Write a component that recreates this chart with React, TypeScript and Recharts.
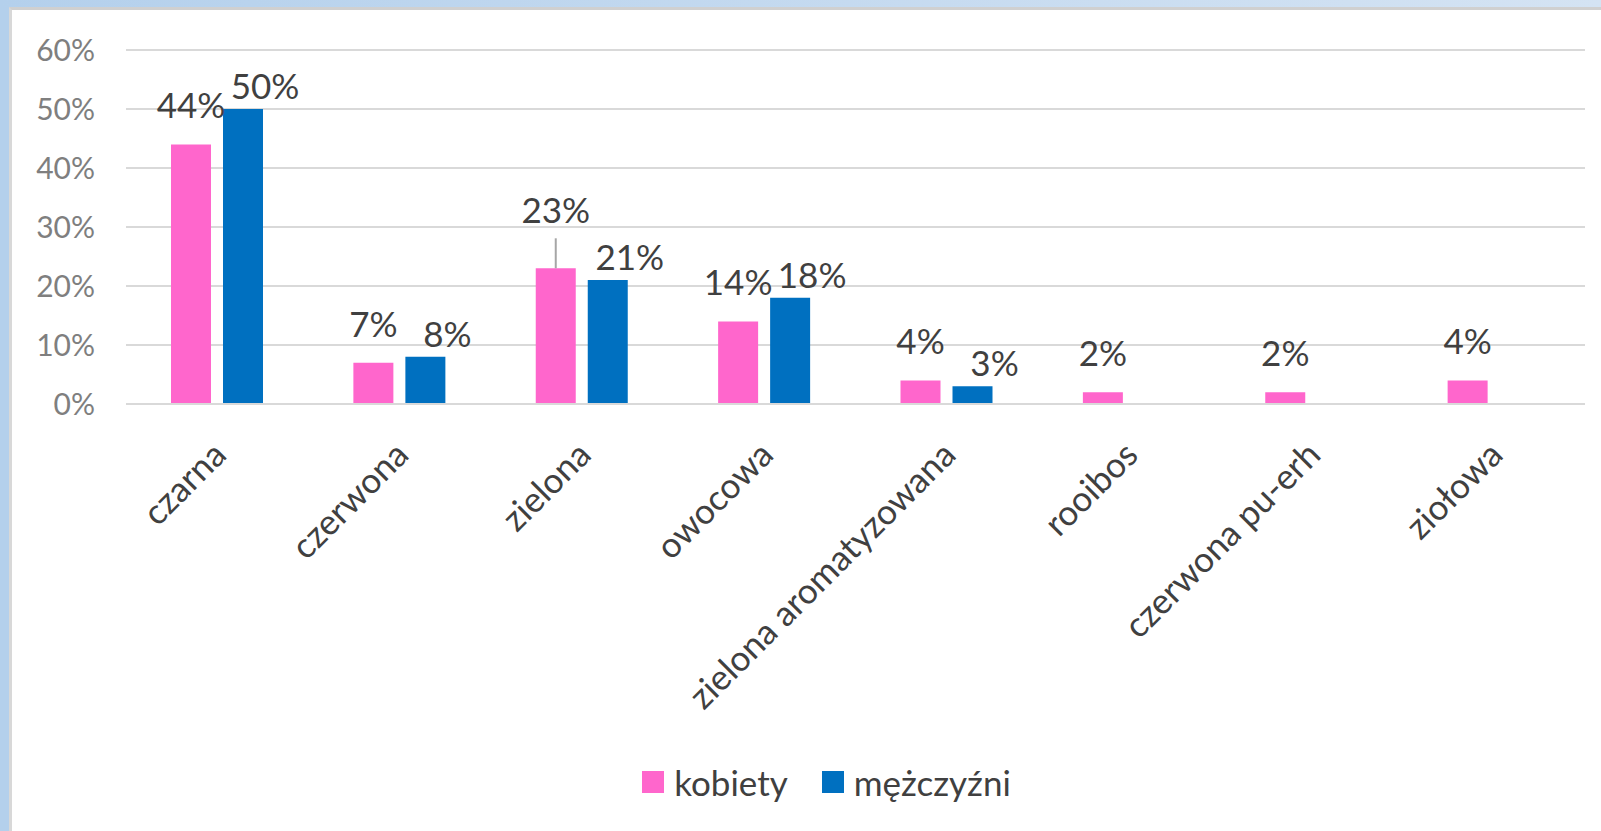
import React from 'react'
import {BarChart, Bar, XAxis, YAxis, CartesianGrid, Legend, LabelList} from 'recharts'

const categories = ['czarna', 'czerwona', 'zielona', 'owocowa', 'zielona aromatyzowana', 'rooibos', 'czerwona pu-erh', 'ziołowa']
const kobiety = [44, 7, 23, 14, 4, 2, 2, 4]
const mezczyzni: (number | null)[] = [50, 8, 21, 18, 3, null, null, null]
const yTicks = [0, 10, 20, 30, 40, 50, 60]
const seriesNames = ['kobiety', 'mężczyźni']

const data = categories.map((c, i) => ({name: c, k: kobiety[i], m: mezczyzni[i]}))

const PINK = '#ff66cc'
const BLUE = '#0070c0'
const FONT = 'Lato, "Open Sans", sans-serif'

const CatTick = (props: any) => {
  const {x, y, payload} = props
  const ax = x + 11
  const ay = y + 45
  return (
    <text x={ax} y={ay} transform={`rotate(-45, ${ax}, ${ay})`} textAnchor="end"
      fill="#404040" fontSize={35} fontFamily={FONT}>{payload.value}</text>
  )
}

// pink labels sit centred above the bar, blue ones nudged to the right (as in the original)
const makeLabel = (series: 'k' | 'm') => (props: any) => {
  const {x, y, width, value, index} = props
  if (value == null) return null
  const cx = x + width / 2 + (series === 'm' ? 22 : 0)
  const lift = series === 'm' ? 10 : (index === 2 ? 45 : 26)
  return (
    <g>
      {series === 'k' && index === 2 && (
        <line x1={cx} x2={cx} y1={y - 30} y2={y} stroke="#a6a6a6" strokeWidth={2} />
      )}
      <text x={cx} y={y - lift} textAnchor="middle" fill="#404040" fontSize={35} fontFamily={FONT}>{value}%</text>
    </g>
  )
}

const LegendContent = () => (
  <div style={{display: 'flex', justifyContent: 'center', alignItems: 'center', paddingLeft: 68, fontFamily: FONT, fontSize: 35, color: '#404040'}}>
    {seriesNames.map((n, i) => (
      <div key={n} style={{display: 'flex', alignItems: 'center', marginRight: i === 0 ? 34 : 0}}>
        <span style={{width: 22, height: 22, background: i === 0 ? PINK : BLUE, marginRight: 10, display: 'inline-block'}} />
        <span>{n}</span>
      </div>
    ))}
  </div>
)

export default function App() {
  return (
    <div style={{position: 'absolute', left: 0, top: 0, width: 1601, height: 831, background: '#b4d0ec', overflow: 'hidden'}}>
      <div style={{position: 'absolute', left: 0, top: 0, width: 1601, height: 8, background: 'linear-gradient(90deg, #b4d0ec, #d4e3f3)'}} />
      <div style={{position: 'absolute', left: 9, top: 7, width: 1592, height: 824, background: '#fff', borderLeft: '3px solid #d8d8d8', borderTop: '3px solid #d0d0d0', boxSizing: 'border-box'}} />
      <div style={{position: 'absolute', left: 0, top: 0}}>
        <BarChart width={1601} height={831} data={data} margin={{top: 50, right: 16, left: 0, bottom: 20}}
          barSize={40} barGap={12}>
          <CartesianGrid vertical={false} stroke="#d9d9d9" strokeWidth={2} />
          <XAxis dataKey="name" height={357} tickLine={false} axisLine={{stroke: '#d9d9d9', strokeWidth: 2}}
            tick={<CatTick />} interval={0} />
          <YAxis width={126} domain={[0, 60]} ticks={yTicks} tickFormatter={(v: number) => v + '%'}
            axisLine={false} tickLine={false} tickSize={0} tickMargin={31}
            tick={{fill: '#7f7f7f', fontSize: 30, fontFamily: FONT}} />
          <Legend verticalAlign="bottom" height={50} content={<LegendContent />} />
          <Bar dataKey="k" name={seriesNames[0]} fill={PINK} isAnimationActive={false}>
            <LabelList dataKey="k" content={makeLabel('k')} />
          </Bar>
          <Bar dataKey="m" name={seriesNames[1]} fill={BLUE} isAnimationActive={false}>
            <LabelList dataKey="m" content={makeLabel('m')} />
          </Bar>
        </BarChart>
      </div>
    </div>
  )
}
